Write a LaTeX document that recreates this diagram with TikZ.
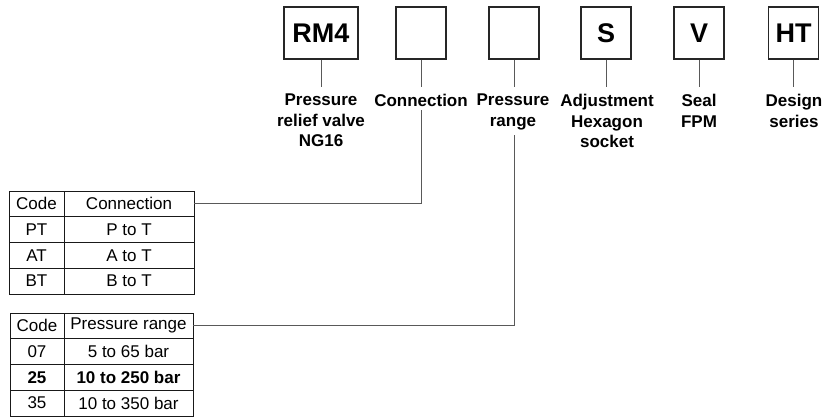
\documentclass[tikz,border=0pt]{standalone}
\usepackage{fontspec}
\setmainfont{Liberation Sans}
\begin{document}
\begin{tikzpicture}[x=1pt,y=-1pt,
  codebox/.style={draw=black!85, line width=1.4pt, minimum width=50pt, minimum height=52pt, inner sep=0pt, font=\fontsize{27}{30}\selectfont\bfseries},
  lbl/.style={anchor=north, align=center, inner sep=0pt, font=\fontsize{17}{20.5}\selectfont\bfseries},
  link/.style={draw=black!65, line width=0.9pt},
  cell/.style={draw=black!90, line width=0.9pt, inner sep=0pt, font=\fontsize{17}{20}\selectfont, minimum height=25.75pt},
  cellbold/.style={cell, font=\fontsize{17}{20}\selectfont\bfseries}]
\useasboundingbox (0,0) rectangle (825,416);

% code boxes
\node[codebox, minimum width=74pt] (b1) at (321,33) {RM4};
\node[codebox] (b2) at (421,33) {};
\node[codebox] (b3) at (514,33) {};
\node[codebox] (b4) at (606,33) {S};
\node[codebox] (b5) at (699,33) {V};
\node[codebox] (b6) at (793.5,33) {HT};

% label tops
\coordinate (e1) at (321,87);
\coordinate (e2) at (421,87);
\coordinate (e3) at (514,87);
\coordinate (e4) at (606,87);
\coordinate (e5) at (699,87);
\coordinate (e6) at (793.5,87);
\foreach \i in {1,...,6} \draw[link] (b\i.south) -- (e\i);

% labels
\node[lbl] (l1) at (321,94) {Pressure\\relief valve\\NG16};
\node[lbl] (l2) at (421,94) {Connection};
\node[lbl] (l3) at (513,94) {Pressure\\range};
\node[lbl] (l4) at (607,94) {Adjustment\\Hexagon\\socket};
\node[lbl] (l5) at (699,94) {Seal\\FPM};
\node[lbl] (l6) at (794,94) {Design\\series};

% table 1
\node[cell, minimum width=55pt] (t1a0) at (36.5,203.9) {Code};
\node[cell, minimum width=130pt] (t1b0) at (129,203.9) {Connection};
\node[cell, minimum width=55pt] (t1a1) at (36.5,229.6) {PT};
\node[cell, minimum width=130pt] (t1b1) at (129,229.6) {P to T};
\node[cell, minimum width=55pt] (t1a2) at (36.5,255.4) {AT};
\node[cell, minimum width=130pt] (t1b2) at (129,255.4) {A to T};
\node[cell, minimum width=55pt] (t1a3) at (36.5,281.1) {BT};
\node[cell, minimum width=130pt] (t1b3) at (129,281.1) {B to T};

% table 2
\node[cell, minimum width=54pt] (t2a0) at (37,325.9) {Code};
\node[cell, minimum width=129pt] (t2b0) at (128.5,325.9) {Pressure range};
\node[cell, minimum width=54pt] (t2a1) at (37,351.6) {07};
\node[cell, minimum width=129pt] (t2b1) at (128.5,351.6) {5 to 65 bar};
\node[cellbold, minimum width=54pt] (t2a2) at (37,377.4) {25};
\node[cellbold, minimum width=129pt] (t2b2) at (128.5,377.4) {10 to 250 bar};
\node[cell, minimum width=54pt] (t2a3) at (37,403.1) {35};
\node[cell, minimum width=129pt] (t2b3) at (128.5,403.1) {10 to 350 bar};

% connectors to tables
\coordinate (c2) at (421,110);
\coordinate (c3) at (514,135);
\draw[link] (c2) |- (t1b0.east);
\draw[link] (c3) |- (t2b0.east);
\end{tikzpicture}
\end{document}
